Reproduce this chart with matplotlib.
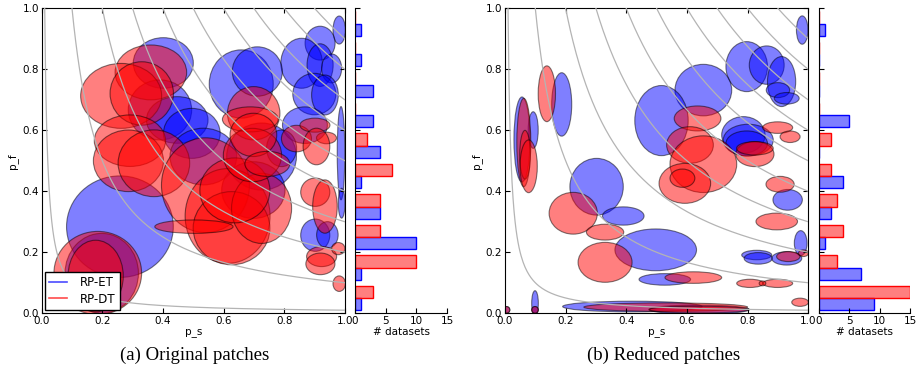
import numpy as np
import matplotlib
matplotlib.use("Agg")
import matplotlib.pyplot as plt
from matplotlib.patches import Ellipse
from matplotlib.lines import Line2D

# ellipses: (p_s mean, p_f mean, width, height)
orig_et = [
    (0.981, 0.929, 0.041, 0.092), (0.918, 0.886, 0.099, 0.111),
    (0.857, 0.820, 0.137, 0.164), (0.918, 0.814, 0.086, 0.140),
    (0.956, 0.803, 0.066, 0.095), (0.899, 0.719, 0.142, 0.136),
    (0.934, 0.716, 0.088, 0.131), (0.658, 0.752, 0.211, 0.224),
    (0.711, 0.793, 0.165, 0.162), (0.401, 0.821, 0.198, 0.166),
    (0.390, 0.667, 0.209, 0.197), (0.447, 0.634, 0.203, 0.153),
    (0.495, 0.590, 0.187, 0.164), (0.533, 0.514, 0.220, 0.186),
    (0.725, 0.514, 0.230, 0.220), (0.698, 0.404, 0.209, 0.186),
    (0.258, 0.284, 0.352, 0.333), (0.198, 0.131, 0.242, 0.262),
    (0.868, 0.617, 0.148, 0.120), (0.987, 0.525, 0.025, 0.306),
    (0.989, 0.361, 0.022, 0.098), (0.902, 0.256, 0.096, 0.106),
    (0.942, 0.257, 0.071, 0.087), (0.791, 0.541, 0.099, 0.120),
]
orig_dt = [
    (0.360, 0.790, 0.236, 0.180), (0.262, 0.713, 0.267, 0.213),
    (0.330, 0.721, 0.209, 0.208), (0.291, 0.566, 0.235, 0.169),
    (0.286, 0.500, 0.231, 0.202), (0.370, 0.492, 0.236, 0.219),
    (0.540, 0.420, 0.290, 0.311), (0.613, 0.319, 0.280, 0.311),
    (0.626, 0.279, 0.253, 0.240), (0.725, 0.344, 0.198, 0.230),
    (0.637, 0.403, 0.231, 0.213), (0.699, 0.656, 0.173, 0.175),
    (0.688, 0.636, 0.184, 0.082), (0.695, 0.519, 0.192, 0.175),
    (0.698, 0.585, 0.154, 0.142), (0.744, 0.490, 0.148, 0.082),
    (0.502, 0.284, 0.258, 0.044), (0.840, 0.573, 0.099, 0.087),
    (0.901, 0.617, 0.099, 0.046), (0.939, 0.575, 0.066, 0.038),
    (0.906, 0.547, 0.088, 0.120), (0.902, 0.397, 0.096, 0.093),
    (0.934, 0.350, 0.081, 0.175), (0.923, 0.186, 0.099, 0.066),
    (0.919, 0.162, 0.096, 0.071), (0.978, 0.212, 0.044, 0.040),
    (0.981, 0.097, 0.041, 0.051), (0.185, 0.132, 0.289, 0.273),
    (0.178, 0.122, 0.182, 0.235),
]
red_et = [
    (0.980, 0.929, 0.038, 0.093), (0.797, 0.809, 0.137, 0.164),
    (0.863, 0.814, 0.115, 0.126), (0.912, 0.760, 0.093, 0.164),
    (0.900, 0.732, 0.077, 0.049), (0.929, 0.705, 0.082, 0.038),
    (0.654, 0.732, 0.187, 0.169), (0.516, 0.632, 0.176, 0.230),
    (0.786, 0.585, 0.143, 0.120), (0.802, 0.568, 0.165, 0.104),
    (0.797, 0.557, 0.137, 0.082), (0.187, 0.685, 0.066, 0.208),
    (0.093, 0.601, 0.033, 0.120), (0.056, 0.570, 0.053, 0.279),
    (0.302, 0.415, 0.176, 0.186), (0.390, 0.319, 0.137, 0.060),
    (0.497, 0.208, 0.269, 0.137), (0.527, 0.111, 0.170, 0.038),
    (0.932, 0.372, 0.097, 0.068), (0.975, 0.230, 0.042, 0.082),
    (0.830, 0.191, 0.099, 0.031), (0.835, 0.180, 0.093, 0.038),
    (0.929, 0.180, 0.099, 0.044), (0.099, 0.033, 0.022, 0.082),
    (0.005, 0.011, 0.022, 0.022), (0.099, 0.011, 0.022, 0.022),
    (0.420, 0.022, 0.460, 0.035), (0.640, 0.012, 0.330, 0.030),
]
red_dt = [
    (0.138, 0.720, 0.057, 0.183), (0.062, 0.560, 0.046, 0.290),
    (0.066, 0.520, 0.035, 0.160), (0.078, 0.482, 0.057, 0.173),
    (0.635, 0.639, 0.154, 0.082), (0.610, 0.552, 0.154, 0.120),
    (0.654, 0.489, 0.220, 0.186), (0.593, 0.426, 0.170, 0.131),
    (0.585, 0.443, 0.082, 0.060), (0.824, 0.522, 0.126, 0.082),
    (0.824, 0.541, 0.121, 0.044), (0.899, 0.609, 0.099, 0.038),
    (0.940, 0.579, 0.066, 0.038), (0.907, 0.423, 0.093, 0.052),
    (0.896, 0.301, 0.137, 0.055), (0.225, 0.328, 0.159, 0.137),
    (0.330, 0.266, 0.123, 0.052), (0.330, 0.167, 0.178, 0.131),
    (0.621, 0.117, 0.187, 0.038), (0.808, 0.098, 0.088, 0.027),
    (0.899, 0.098, 0.099, 0.027), (0.849, 0.098, 0.022, 0.016),
    (0.934, 0.186, 0.077, 0.033), (0.984, 0.197, 0.033, 0.022),
    (0.973, 0.036, 0.055, 0.027), (0.530, 0.020, 0.540, 0.028),
    (0.640, 0.012, 0.330, 0.022), (0.005, 0.011, 0.022, 0.022),
    (0.099, 0.011, 0.022, 0.022),
]

# histogram of p_s*p_f, bins of 0.1
bin_lo = [0.0, 0.1, 0.2, 0.3, 0.4, 0.5, 0.6, 0.7, 0.8, 0.9]
orig_et_counts = [1, 1, 10, 4, 1, 4, 3, 3, 1, 1]
orig_dt_counts = [3, 10, 4, 4, 6, 2, 0, 0, 0, 0]
red_et_counts = [9, 7, 1, 2, 4, 0, 5, 0, 0, 1]
red_dt_counts = [15, 3, 4, 3, 2, 2, 0, 0, 0, 0]

levels = [0.01, 0.1, 0.2, 0.3, 0.4, 0.5, 0.6, 0.7, 0.8, 0.9]
captions = ["(a) Original patches", "(b) Reduced patches"]

fig = plt.figure(figsize=(9.16, 3.82), dpi=100)


def draw_panel(ax, hx, et, dt, et_counts, dt_counts, legend=False):
    for x, y, w, h in et:
        ax.add_patch(Ellipse((x, y), w, h, facecolor="b", edgecolor="k",
                             alpha=0.5, lw=0.8))
    for x, y, w, h in dt:
        ax.add_patch(Ellipse((x, y), w, h, facecolor="r", edgecolor="k",
                             alpha=0.5, lw=0.8))
    for c in levels:
        ps = np.linspace(c, 1, 300)
        ax.plot(ps, c / ps, color="#b4b4b4", lw=0.9, zorder=3)
    ax.set_xlim(0, 1)
    ax.set_ylim(0, 1)
    ax.set_xticks(np.arange(0, 1.01, 0.2))
    ax.set_yticks(np.arange(0, 1.01, 0.2))
    ax.tick_params(direction="in", top=True, right=True, labelsize=7.5,
                   length=3.5, pad=2)
    ax.set_xlabel("p_s", fontsize=7.5, labelpad=1)
    ax.set_ylabel("p_f", fontsize=7.5, labelpad=3)
    if legend:
        hl = [Line2D([], [], color="b", alpha=0.7, lw=1.2),
              Line2D([], [], color="r", alpha=0.7, lw=1.2)]
        lg = ax.legend(hl, ["RP-ET", "RP-DT"], loc="lower left", fontsize=8.5,
                       fancybox=False, edgecolor="k", framealpha=1,
                       borderaxespad=0.3, handlelength=1.5, handletextpad=1.1,
                       borderpad=0.35, labelspacing=0.3)
        lg.get_frame().set_linewidth(1.0)
        lg.set_zorder(5)

    lo = np.array(bin_lo)
    hx.barh(lo + 0.01, et_counts, height=0.04, align="edge",
            facecolor=(0, 0, 1, 0.5), edgecolor="b", lw=1)
    hx.barh(lo + 0.05, dt_counts, height=0.04, align="edge",
            facecolor=(1, 0, 0, 0.5), edgecolor="r", lw=1)
    hx.set_ylim(0, 1)
    hx.set_xlim(0, 15)
    hx.set_xticks([0, 5, 10, 15])
    hx.set_yticks(np.arange(0, 1.01, 0.2))
    hx.set_yticklabels([])
    hx.spines["top"].set_visible(False)
    hx.spines["right"].set_visible(False)
    hx.tick_params(direction="in", labelsize=7.5, length=3.5, pad=2)
    hx.set_xlabel("# datasets", fontsize=7.5, labelpad=1)


ax1 = fig.add_axes([0.0455, 0.18, 0.3311, 0.798])
h1 = fig.add_axes([0.3876, 0.18, 0.1004, 0.798])
ax2 = fig.add_axes([0.5513, 0.18, 0.3311, 0.798])
h2 = fig.add_axes([0.8941, 0.18, 0.0993, 0.798])

draw_panel(ax1, h1, orig_et, orig_dt, orig_et_counts, orig_dt_counts, legend=True)
draw_panel(ax2, h2, red_et, red_dt, red_et_counts, red_dt_counts)

fig.text(0.213, 0.07, captions[0], ha="center", va="center",
         fontsize=13.5, family="Liberation Serif")
fig.text(0.724, 0.07, captions[1], ha="center", va="center",
         fontsize=13.5, family="Liberation Serif")

fig.savefig("out.png", dpi=100)
